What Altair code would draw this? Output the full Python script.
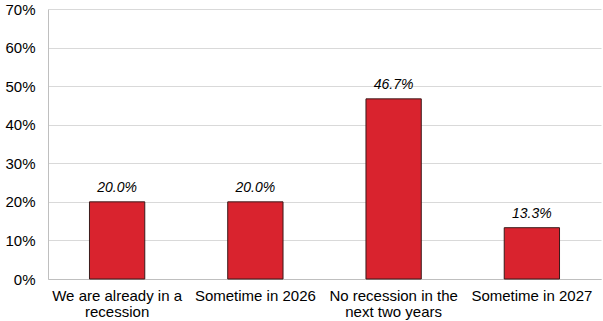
import altair as alt
import pandas as pd

# Survey answers: when will the next recession arrive?
categories = [
    "We are already in a recession",
    "Sometime in 2026",
    "No recession in the next two years",
    "Sometime in 2027",
]
shares = [0.200, 0.200, 0.467, 0.133]
# Axis labels broken onto two lines where the text is long
label_lines = [
    ["We are already in a", "recession"],
    ["Sometime in 2026"],
    ["No recession in the", "next two years"],
    ["Sometime in 2027"],
]
y_ticks = [0, 0.1, 0.2, 0.3, 0.4, 0.5, 0.6, 0.7]

df = pd.DataFrame({"answer": categories, "share": shares})

label_expr = ""
for cat, lines in zip(categories, label_lines):
    arr = "[" + ", ".join("'" + s + "'" for s in lines) + "]"
    label_expr += f"datum.label == '{cat}' ? {arr} : "
label_expr += "datum.label"

FONT = "Liberation Sans"

x = alt.X(
    "answer:N",
    sort=categories,
    title=None,
    scale=alt.Scale(paddingInner=0.6, paddingOuter=0.3),
    axis=alt.Axis(
        labelAngle=0,
        labelExpr=label_expr,
        labelFontSize=15,
        labelFont=FONT,
        labelColor="#000000",
        labelPadding=9,
        labelLineHeight=16.5,
        labelLimit=200,
        labelOverlap=False,
        ticks=False,
        domainColor="#bfbfbf",
        domainWidth=1,
        grid=False,
    ),
)
y = alt.Y(
    "share:Q",
    title=None,
    scale=alt.Scale(domain=[0, 0.7], nice=False),
    axis=alt.Axis(
        format=".0%",
        values=y_ticks,
        labelFontSize=15,
        labelFont=FONT,
        labelColor="#000000",
        labelPadding=13,
        labelOverlap=False,
        ticks=False,
        domainColor="#bfbfbf",
        domainWidth=1,
        gridColor="#d9d9d9",
        gridWidth=1,
    ),
)

base = alt.Chart(df).encode(x=x, y=y)

bars = base.mark_bar(color="#d9232e", stroke="#3a1a1a", strokeWidth=1)

labels = base.mark_text(
    dy=-13.5, fontSize=14, font=FONT, fontStyle="italic", color="#000000"
).encode(text=alt.Text("share:Q", format=".1%"))

chart = (
    alt.layer(bars, labels)
    .properties(
        width=553,
        height=270,
        padding={"left": 48, "top": 9, "right": 2, "bottom": 42},
        autosize=alt.AutoSizeParams(type="none"),
        background="#ffffff",
    )
    .configure_view(stroke=None)
)

chart.save("out.html", embed_options={"renderer": "svg", "actions": False})
